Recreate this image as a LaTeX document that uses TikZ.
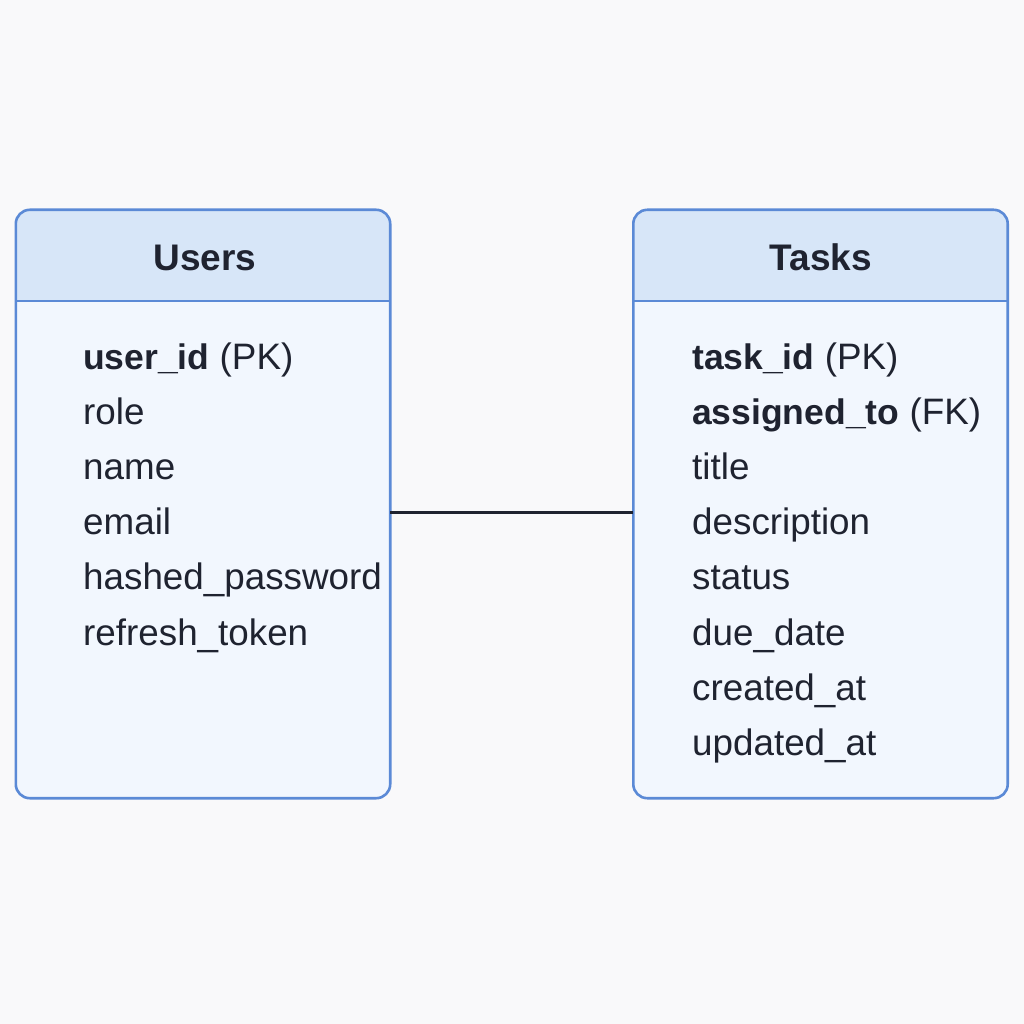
\documentclass[tikz,border=0pt]{standalone}
\usepackage{fontspec}
\setmainfont{Liberation Sans}
\definecolor{bg}{HTML}{F9F9FA}
\definecolor{headfill}{HTML}{D7E6F8}
\definecolor{bodyfill}{HTML}{F2F7FE}
\definecolor{bordercol}{HTML}{5B8AD6}
\definecolor{txt}{HTML}{1F2330}
\newcommand{\keyname}[1]{{\fontsize{35.5}{40}\selectfont\bfseries #1}}
\tikzset{
  tablebox/.style={fill=bodyfill, minimum width=374pt, minimum height=588pt, inner sep=0pt, rounded corners=14pt},
  border/.style={draw=bordercol, line width=2.6pt, rounded corners=14pt},
  sep/.style={draw=bordercol, line width=2.2pt},
  title/.style={text=txt, font=\fontsize{37}{40}\selectfont\bfseries, anchor=base},
  field/.style={text=txt, font=\fontsize{36.8}{40}\selectfont, anchor=base west, inner sep=0pt},
  conn/.style={draw=txt, line width=3pt}
}
\begin{document}
\begin{tikzpicture}[x=1pt,y=-1pt]
\useasboundingbox[fill=bg] (0,0) rectangle (1024,1024);
% Users table
\node[tablebox] (users) at (203,504) {};
\fill[headfill] (users.west |- 0,301) [rounded corners=14pt]-- (users.north west) -- (users.north east) [sharp corners]-- (users.east |- 0,301) -- cycle;
\draw[sep] (users.west |- 0,301) -- (users.east |- 0,301);
\draw[border] (users.south west) rectangle (users.north east);
\node[title] (utitle) at (205,270) {Users};
\node[field] (u1) at (83,369) {\keyname{user\_id} (PK)};
\node[field] (u2) at (83,424.2) {role};
\node[field] (u3) at (83,479.4) {name};
\node[field] (u4) at (83,534.6) {email};
\node[field] (u5) at (83,589.8) {hashed\_password};
\node[field] (u6) at (83,645) {refresh\_token};
% Tasks table
\node[tablebox] (tasks) at (820.5,504) {};
\fill[headfill] (tasks.west |- 0,301) [rounded corners=14pt]-- (tasks.north west) -- (tasks.north east) [sharp corners]-- (tasks.east |- 0,301) -- cycle;
\draw[sep] (tasks.west |- 0,301) -- (tasks.east |- 0,301);
\draw[border] (tasks.south west) rectangle (tasks.north east);
\node[title] (ttitle) at (821,270) {Tasks};
\node[field] (t1) at (692,369) {\keyname{task\_id} (PK)};
\node[field] (t2) at (692,424.2) {\keyname{assigned\_to} (FK)};
\node[field] (t3) at (692,479.4) {title};
\node[field] (t4) at (692,534.6) {description};
\node[field] (t5) at (692,589.8) {status};
\node[field] (t6) at (692,645) {due\_date};
\node[field] (t7) at (692,700.2) {created\_at};
\node[field] (t8) at (692,755.4) {updated\_at};
% connector
\coordinate (c) at (0,512);
\draw[conn] (users.east |- c) -- (tasks.west |- c);
\end{tikzpicture}
\end{document}
